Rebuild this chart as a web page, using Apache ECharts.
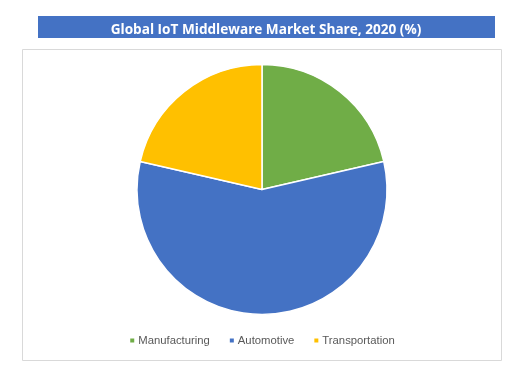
<!DOCTYPE html>
<html>
<head>
<meta charset="utf-8">
<script src="https://cdn.jsdelivr.net/npm/echarts@6/dist/echarts.min.js"></script>
<style>html,body{margin:0;padding:0;background:#fff;}#c{width:523px;height:381px;}</style>
</head>
<body>
<div id="c"></div>
<script>
var categories = ['Manufacturing', 'Automotive', 'Transportation'];
var values = [21.4, 57.2, 21.4];
var colors = ['#70AD47', '#4472C4', '#FFC000'];
var titleText = 'Global IoT Middleware Market Share, 2020 (%)';

var chart = echarts.init(document.getElementById('c'), null, {renderer: 'canvas'});
chart.setOption({
  animation: false,
  backgroundColor: '#ffffff',
  graphic: [
    {type: 'rect', shape: {x: 22.5, y: 49.5, width: 479, height: 311}, style: {fill: '#fff', stroke: '#D9D9D9', lineWidth: 1}, z: -10},
    {type: 'rect', shape: {x: 38, y: 16, width: 457, height: 22}, style: {fill: '#4472C4'}, z: -5}
  ],
  title: {
    text: titleText,
    left: 266, top: 18, textAlign: 'center',
    textStyle: {color: '#ffffff', fontSize: 13.6, fontWeight: 'bold', fontFamily: 'Open Sans'}
  },
  legend: {
    data: categories,
    bottom: 30,
    left: 'center',
    itemWidth: 6, itemHeight: 6, icon: 'rect', itemGap: 18,
    textStyle: {color: '#595959', fontSize: 11.3, fontFamily: 'Liberation Sans', padding: [0,0,0,-2]}
  },
  series: [{
    type: 'pie',
    center: [262, 189.5],
    radius: [0, 125],
    startAngle: 90,
    clockwise: true,
    label: {show: false},
    labelLine: {show: false},
    itemStyle: {borderColor: '#fff', borderWidth: 1.5},
    emphasis: {disabled: true},
    data: categories.map(function (c, i) { return {name: c, value: values[i], itemStyle: {color: colors[i]}}; })
  }]
});
chart.setOption({title: {left: 261}});
</script>
</body>
</html>
